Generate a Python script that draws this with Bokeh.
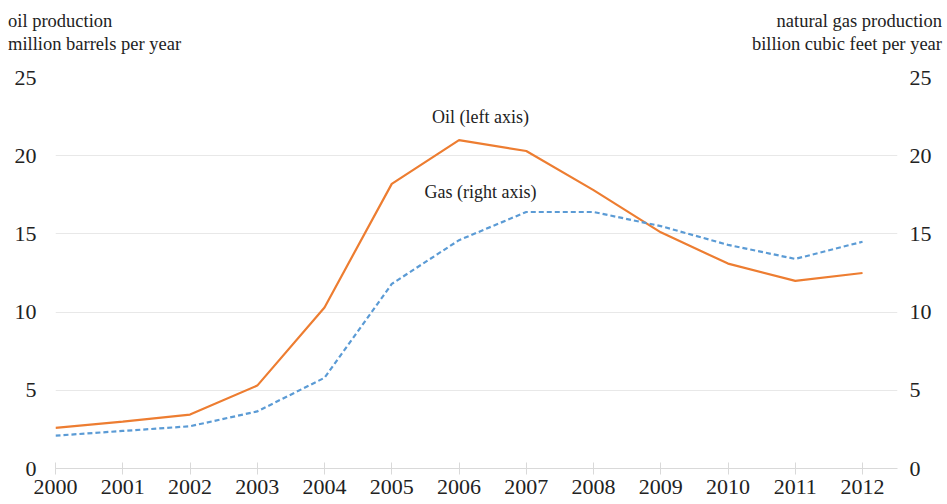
from bokeh.plotting import figure
from bokeh.models import Range1d, LinearAxis, FixedTicker, Label, Div
from bokeh.layouts import column
from bokeh.embed import file_html
from bokeh.resources import INLINE

years = [2000, 2001, 2002, 2003, 2004, 2005, 2006, 2007, 2008, 2009, 2010, 2011, 2012]
oil = [2.6, 3.0, 3.45, 5.3, 10.3, 18.2, 21.0, 20.3, 17.8, 15.1, 13.1, 12.0, 12.5]
gas = [2.1, 2.4, 2.7, 3.65, 5.8, 11.8, 14.6, 16.4, 16.4, 15.5, 14.3, 13.4, 14.5]
y_ticks = [0, 5, 10, 15, 20, 25]
left_header = ["oil production", "million barrels per year"]
right_header = ["natural gas production", "billion cubic feet per year"]

FONT = "Liberation Serif"
TXT = "#222222"
HEAD_H = 57

header_html = (
    '<div style="display:flex;justify-content:space-between;box-sizing:border-box;width:947px;'
    'padding:10px 5px 0 8px;font-family:\'Liberation Serif\',serif;font-size:18.5px;'
    'line-height:23px;color:#222222;">'
    '<div style="text-align:left">' + "<br>".join(left_header) + '</div>'
    '<div style="text-align:right">' + "<br>".join(right_header) + '</div>'
    '</div>'
)
header = Div(text=header_html, width=947, height=HEAD_H, margin=0)

p = figure(width=947, height=504 - HEAD_H, output_backend="svg", toolbar_location=None,
           x_range=Range1d(2000, 2012.52), y_range=Range1d(0, 25),
           min_border_left=55, min_border_right=50, min_border_top=77 - HEAD_H,
           min_border_bottom=36, margin=0)
p.outline_line_color = None
p.extra_y_ranges = {"gas": Range1d(0, 25)}

# x axis
p.xaxis.ticker = FixedTicker(ticks=years)
p.xaxis.axis_line_color = "#d9d9d9"
p.xaxis.major_tick_line_color = "#d9d9d9"
p.xaxis.major_tick_in = 6
p.xaxis.major_tick_out = 6
p.xaxis.minor_tick_line_color = None
p.xaxis.major_label_standoff = 5
p.xaxis.major_label_text_font = FONT
p.xaxis.major_label_text_font_size = "22px"
p.xaxis.major_label_text_color = TXT

# left axis
p.yaxis.ticker = FixedTicker(ticks=y_ticks)
p.yaxis.axis_line_color = None
p.yaxis.major_tick_line_color = None
p.yaxis.minor_tick_line_color = None
p.yaxis.major_tick_out = 0
p.yaxis.major_tick_in = 0
p.yaxis.major_label_standoff = 19
p.yaxis.major_label_text_font = FONT
p.yaxis.major_label_text_font_size = "22px"
p.yaxis.major_label_text_color = TXT

# right axis
ra = LinearAxis(y_range_name="gas", ticker=FixedTicker(ticks=y_ticks))
ra.axis_line_color = None
ra.major_tick_line_color = None
ra.minor_tick_line_color = None
ra.major_tick_out = 0
ra.major_tick_in = 0
ra.major_label_standoff = 12
ra.major_label_text_font = FONT
ra.major_label_text_font_size = "22px"
ra.major_label_text_color = TXT
p.add_layout(ra, "right")

p.xgrid.grid_line_color = None
p.ygrid.grid_line_color = "#e8e8e8"
p.ygrid.ticker = FixedTicker(ticks=y_ticks)

p.line(years, oil, line_color="#ED7D31", line_width=2.2)
p.line(years, gas, line_color="#5B9BD5", line_width=2.2, line_dash="5 3", y_range_name="gas")

p.add_layout(Label(x=2006.32, y=22.45, text="Oil (left axis)", text_font=FONT,
                   text_font_size="18px", text_align="center", text_baseline="middle",
                   text_color=TXT))
p.add_layout(Label(x=2006.32, y=17.7, text="Gas (right axis)", text_font=FONT,
                   text_font_size="18px", text_align="center", text_baseline="middle",
                   text_color=TXT))

layout = column(header, p, spacing=0)
open("out.html", "w").write(file_html(layout, INLINE))
